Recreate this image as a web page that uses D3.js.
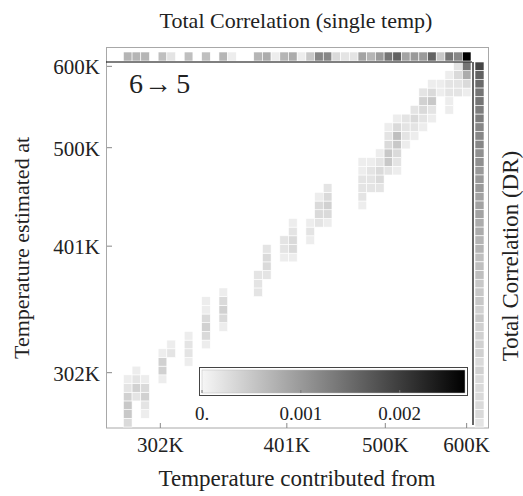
<!DOCTYPE html>
<html>
<head>
<meta charset="utf-8">
<script src="https://cdn.jsdelivr.net/npm/d3@7"></script>
<style>
  body { margin: 0; background: #fff; }
  text { font-family: "Liberation Serif", "DejaVu Serif", serif; fill: #222; }
</style>
</head>
<body>
<div id="chart"></div>
<script>
// temperature ladder (geometric, 42 replicas)
const tempMin = 270, tempMax = 600, nTemps = 42;
const tickTemps = [302, 401, 500, 600];
const cbTicks = [0, 0.001, 0.002];
const cMax = 0.00266;

// heatmap: [contributed-from index, estimated-at index, value]
const cells = [
  [2, 0, 0.0003], [2, 1, 0.0005], [2, 2, 0.0005], [2, 3, 0.0004], [2, 4, 0.0002], [2, 5, 0.0001],
  [3, 3, 0.0002], [3, 4, 0.0004], [3, 5, 0.0002], [3, 6, 0.0001],
  [4, 1, 0.0001], [4, 2, 0.0002], [4, 3, 0.0004], [4, 4, 0.0003], [4, 5, 0.0001],
  [6, 5, 0.0001], [6, 6, 0.0004], [6, 7, 0.0004], [6, 8, 0.0001],
  [7, 8, 0.0002], [7, 9, 0.0001],
  [9, 7, 0.0001], [9, 8, 0.0002], [9, 9, 0.0002], [9, 10, 0.0001],
  [11, 9, 0.0001], [11, 10, 0.0003], [11, 11, 0.0004], [11, 12, 0.0003], [11, 13, 0.0001], [11, 14, 0.0001],
  [13, 11, 0.0001], [13, 12, 0.0003], [13, 13, 0.0004], [13, 14, 0.0003], [13, 15, 0.0001],
  [17, 15, 0.0002], [17, 16, 0.0002], [17, 17, 0.0002],
  [18, 17, 0.0002], [18, 18, 0.0003], [18, 19, 0.0003], [18, 20, 0.0002],
  [20, 19, 0.0001], [20, 20, 0.0002], [20, 21, 0.0002],
  [21, 19, 0.0001], [21, 20, 0.0003], [21, 21, 0.0003], [21, 22, 0.0002], [21, 23, 0.0001],
  [23, 21, 0.0001], [23, 22, 0.0002], [23, 23, 0.0001],
  [24, 23, 0.0002], [24, 24, 0.0003], [24, 25, 0.0003], [24, 26, 0.0001],
  [25, 23, 0.0001], [25, 24, 0.0003], [25, 25, 0.0004], [25, 26, 0.0003], [25, 27, 0.0002],
  [29, 25, 0.0001], [29, 26, 0.0002], [29, 27, 0.0002], [29, 28, 0.0002], [29, 29, 0.0001], [29, 30, 0.0001],
  [30, 27, 0.0002], [30, 28, 0.0002], [30, 29, 0.0002], [30, 30, 0.0001],
  [31, 27, 0.0002], [31, 28, 0.0003], [31, 29, 0.0003], [31, 30, 0.0002], [31, 31, 0.0001],
  [32, 29, 0.0002], [32, 30, 0.0005], [32, 31, 0.0005], [32, 32, 0.0003], [32, 33, 0.0002], [32, 34, 0.0001],
  [33, 29, 0.0001], [33, 30, 0.0002], [33, 31, 0.0003], [33, 32, 0.0005], [33, 33, 0.0006], [33, 34, 0.0003], [33, 35, 0.0001],
  [34, 32, 0.0001], [34, 33, 0.0002], [34, 34, 0.0002], [34, 35, 0.0002],
  [35, 33, 0.0001], [35, 34, 0.0002], [35, 35, 0.0003], [35, 36, 0.0002],
  [36, 34, 0.0001], [36, 35, 0.0002], [36, 36, 0.0003], [36, 37, 0.0004], [36, 38, 0.0002],
  [37, 35, 0.0001], [37, 36, 0.0002], [37, 37, 0.0005], [37, 38, 0.0003], [37, 39, 0.0001],
  [38, 38, 0.0001], [38, 39, 0.0001],
  [39, 36, 0.0001], [39, 37, 0.0001], [39, 38, 0.0002], [39, 39, 0.0002], [39, 40, 0.0001],
  [40, 38, 0.0002], [40, 39, 0.0002], [40, 40, 0.0003], [40, 41, 0.0002],
  [41, 38, 0.0001], [41, 39, 0.0003], [41, 40, 0.0008], [41, 41, 0.0014]
];

// top strip: total correlation per single temperature (by column)
const singleTemp = [0, 0, 0.0007, 0.0007, 0.0007, 0, 0.0006, 0.0002, 0, 0.0006,
  0, 0.0006, 0, 0.0007, 0.0001, 0, 0, 0.0007, 0.0008, 0.0001,
  0.0007, 0.0008, 0.0001, 0.0005, 0.0012, 0.0012, 0.0003, 0.0002, 0.0002, 0.0009,
  0.0007, 0.0010, 0.0014, 0.0016, 0.0009, 0.0010, 0.0010, 0.0016, 0.0005, 0.0014,
  0.0012, 0.00266];

// right strip: total correlation (DR), listed from the highest temperature down
const drTopDown = [0.0019, 0.0016, 0.0015, 0.0014, 0.0014, 0.0013, 0.0013, 0.0012, 0.0012, 0.0012,
  0.0011, 0.0011, 0.0010, 0.0010, 0.0010, 0.0009, 0.0009, 0.0009, 0.0008, 0.0008,
  0.0007, 0.0007, 0.0006, 0.0006, 0.0006, 0.0005, 0.0005, 0.0005, 0.0004, 0.0005,
  0.0004, 0.0004, 0.0004, 0.0004, 0.0003, 0.0004, 0.0003, 0.0003, 0.0003, 0.0003,
  0.0003, 0.0002];

const W = 523, H = 496;
const plot = {left: 106, right: 471, top: 62, bottom: 427};

const svg = d3.select("#chart").append("svg")
  .attr("width", W).attr("height", H);

const idx = d3.range(nTemps);
const x = d3.scaleBand().domain(idx).range([plot.left, plot.right]);
const y = d3.scaleBand().domain(idx).range([plot.bottom, plot.top]);

// log axis matching the ladder's band edges
const step = Math.pow(tempMax / tempMin, 1 / (nTemps - 1));
const tDomain = [tempMin / Math.sqrt(step), tempMax * Math.sqrt(step)];
const xT = d3.scaleLog().domain(tDomain).range([plot.left, plot.right]);
const yT = d3.scaleLog().domain(tDomain).range([plot.bottom, plot.top]);

const color = d3.scaleLinear().domain([0, cMax]).range(["#f6f6f6", "#000000"]).clamp(true);

// outer frame
svg.append("rect")
  .attr("x", 106.5).attr("y", 47.5).attr("width", 382).attr("height", 380.5)
  .attr("fill", "none").attr("stroke", "#a8a8a8").attr("stroke-width", 1);

// heatmap cells
svg.append("g").selectAll("rect")
  .data(cells).enter().append("rect")
  .attr("x", d => x(d[0]))
  .attr("y", d => y(d[1]))
  .attr("width", x.bandwidth())
  .attr("height", y.bandwidth())
  .attr("fill", d => color(d[2]))
  .attr("stroke", "#fff").attr("stroke-width", 0.6);

// top strip
svg.append("g").selectAll("rect")
  .data(singleTemp.map((v, i) => [i, v]).filter(d => d[1] > 0))
  .enter().append("rect")
  .attr("x", d => x(d[0]))
  .attr("y", 52)
  .attr("width", x.bandwidth())
  .attr("height", 9)
  .attr("fill", d => color(d[1]))
  .attr("stroke", "#fff").attr("stroke-width", 0.6);

// right strip
svg.append("g").selectAll("rect")
  .data(drTopDown.map((v, i) => [nTemps - 1 - i, v]))
  .enter().append("rect")
  .attr("x", 475)
  .attr("y", d => y(d[0]))
  .attr("width", 9)
  .attr("height", y.bandwidth())
  .attr("fill", d => color(d[1]))
  .attr("stroke", "#fff").attr("stroke-width", 0.6);

// separator lines
svg.append("line")
  .attr("x1", 106).attr("x2", 472).attr("y1", 62).attr("y2", 62)
  .attr("stroke", "#000").attr("stroke-width", 1.2);
svg.append("line")
  .attr("x1", 473).attr("x2", 473).attr("y1", 62).attr("y2", 425)
  .attr("stroke", "#000").attr("stroke-width", 1.2);

// ticks on the frame
svg.append("g").selectAll("line")
  .data(tickTemps).enter().append("line")
  .attr("x1", d => xT(d)).attr("x2", d => xT(d))
  .attr("y1", 428).attr("y2", 423)
  .attr("stroke", "#888");
svg.append("g").selectAll("line")
  .data(tickTemps).enter().append("line")
  .attr("x1", 107).attr("x2", 112)
  .attr("y1", d => yT(d)).attr("y2", d => yT(d))
  .attr("stroke", "#888");

// tick labels
svg.append("g").selectAll("text")
  .data(tickTemps).enter().append("text")
  .attr("x", d => xT(d)).attr("y", 452)
  .attr("text-anchor", "middle").attr("font-size", 21)
  .text(d => d + "K");
svg.append("g").selectAll("text")
  .data(tickTemps).enter().append("text")
  .attr("x", 100).attr("y", d => yT(d) + 8)
  .attr("text-anchor", "end").attr("font-size", 21)
  .text(d => d + "K");

// colour bar legend
const cb = {x0: 202, x1: 465, y0: 370, y1: 393};
const cbx = d3.scaleLinear().domain([0, cMax]).range([cb.x0, cb.x1]);
const grad = svg.append("defs").append("linearGradient").attr("id", "gbar");
grad.append("stop").attr("offset", "0%").attr("stop-color", color(0));
grad.append("stop").attr("offset", "100%").attr("stop-color", color(cMax));
svg.append("rect")
  .attr("x", cb.x0 - 2.5).attr("y", cb.y0 - 2.5)
  .attr("width", cb.x1 - cb.x0 + 5).attr("height", cb.y1 - cb.y0 + 5)
  .attr("fill", "#fff").attr("stroke", "#444").attr("stroke-width", 1);
svg.append("rect")
  .attr("x", cb.x0).attr("y", cb.y0)
  .attr("width", cb.x1 - cb.x0).attr("height", cb.y1 - cb.y0)
  .attr("fill", "url(#gbar)").attr("stroke", "#bbb").attr("stroke-width", 0.5);
svg.append("g").selectAll("line")
  .data(cbTicks).enter().append("line")
  .attr("x1", d => cbx(d)).attr("x2", d => cbx(d))
  .attr("y1", cb.y1).attr("y2", cb.y1 - 3)
  .attr("stroke", "#777");
svg.append("g").selectAll("text")
  .data(cbTicks).enter().append("text")
  .attr("x", d => cbx(d)).attr("y", 420)
  .attr("text-anchor", "middle").attr("font-size", 19)
  .text(d => d === 0 ? "0." : d3.format(".3f")(d));

// panel label
svg.append("text")
  .attr("x", 129).attr("y", 93)
  .attr("font-size", 28).attr("letter-spacing", 1)
  .text("6\u2192\u200a5");

// titles
svg.append("text")
  .attr("x", 296).attr("y", 28)
  .attr("text-anchor", "middle").attr("font-size", 22)
  .text("Total Correlation (single temp)");
svg.append("text")
  .attr("x", 297).attr("y", 486)
  .attr("text-anchor", "middle").attr("font-size", 23)
  .text("Temperature contributed from");
svg.append("text")
  .attr("transform", "translate(29,248) rotate(-90)")
  .attr("text-anchor", "middle").attr("font-size", 22)
  .text("Temperature estimated at");
svg.append("text")
  .attr("transform", "translate(518,256) rotate(-90)")
  .attr("text-anchor", "middle").attr("font-size", 23)
  .text("Total Correlation (DR)");
</script>
</body>
</html>
